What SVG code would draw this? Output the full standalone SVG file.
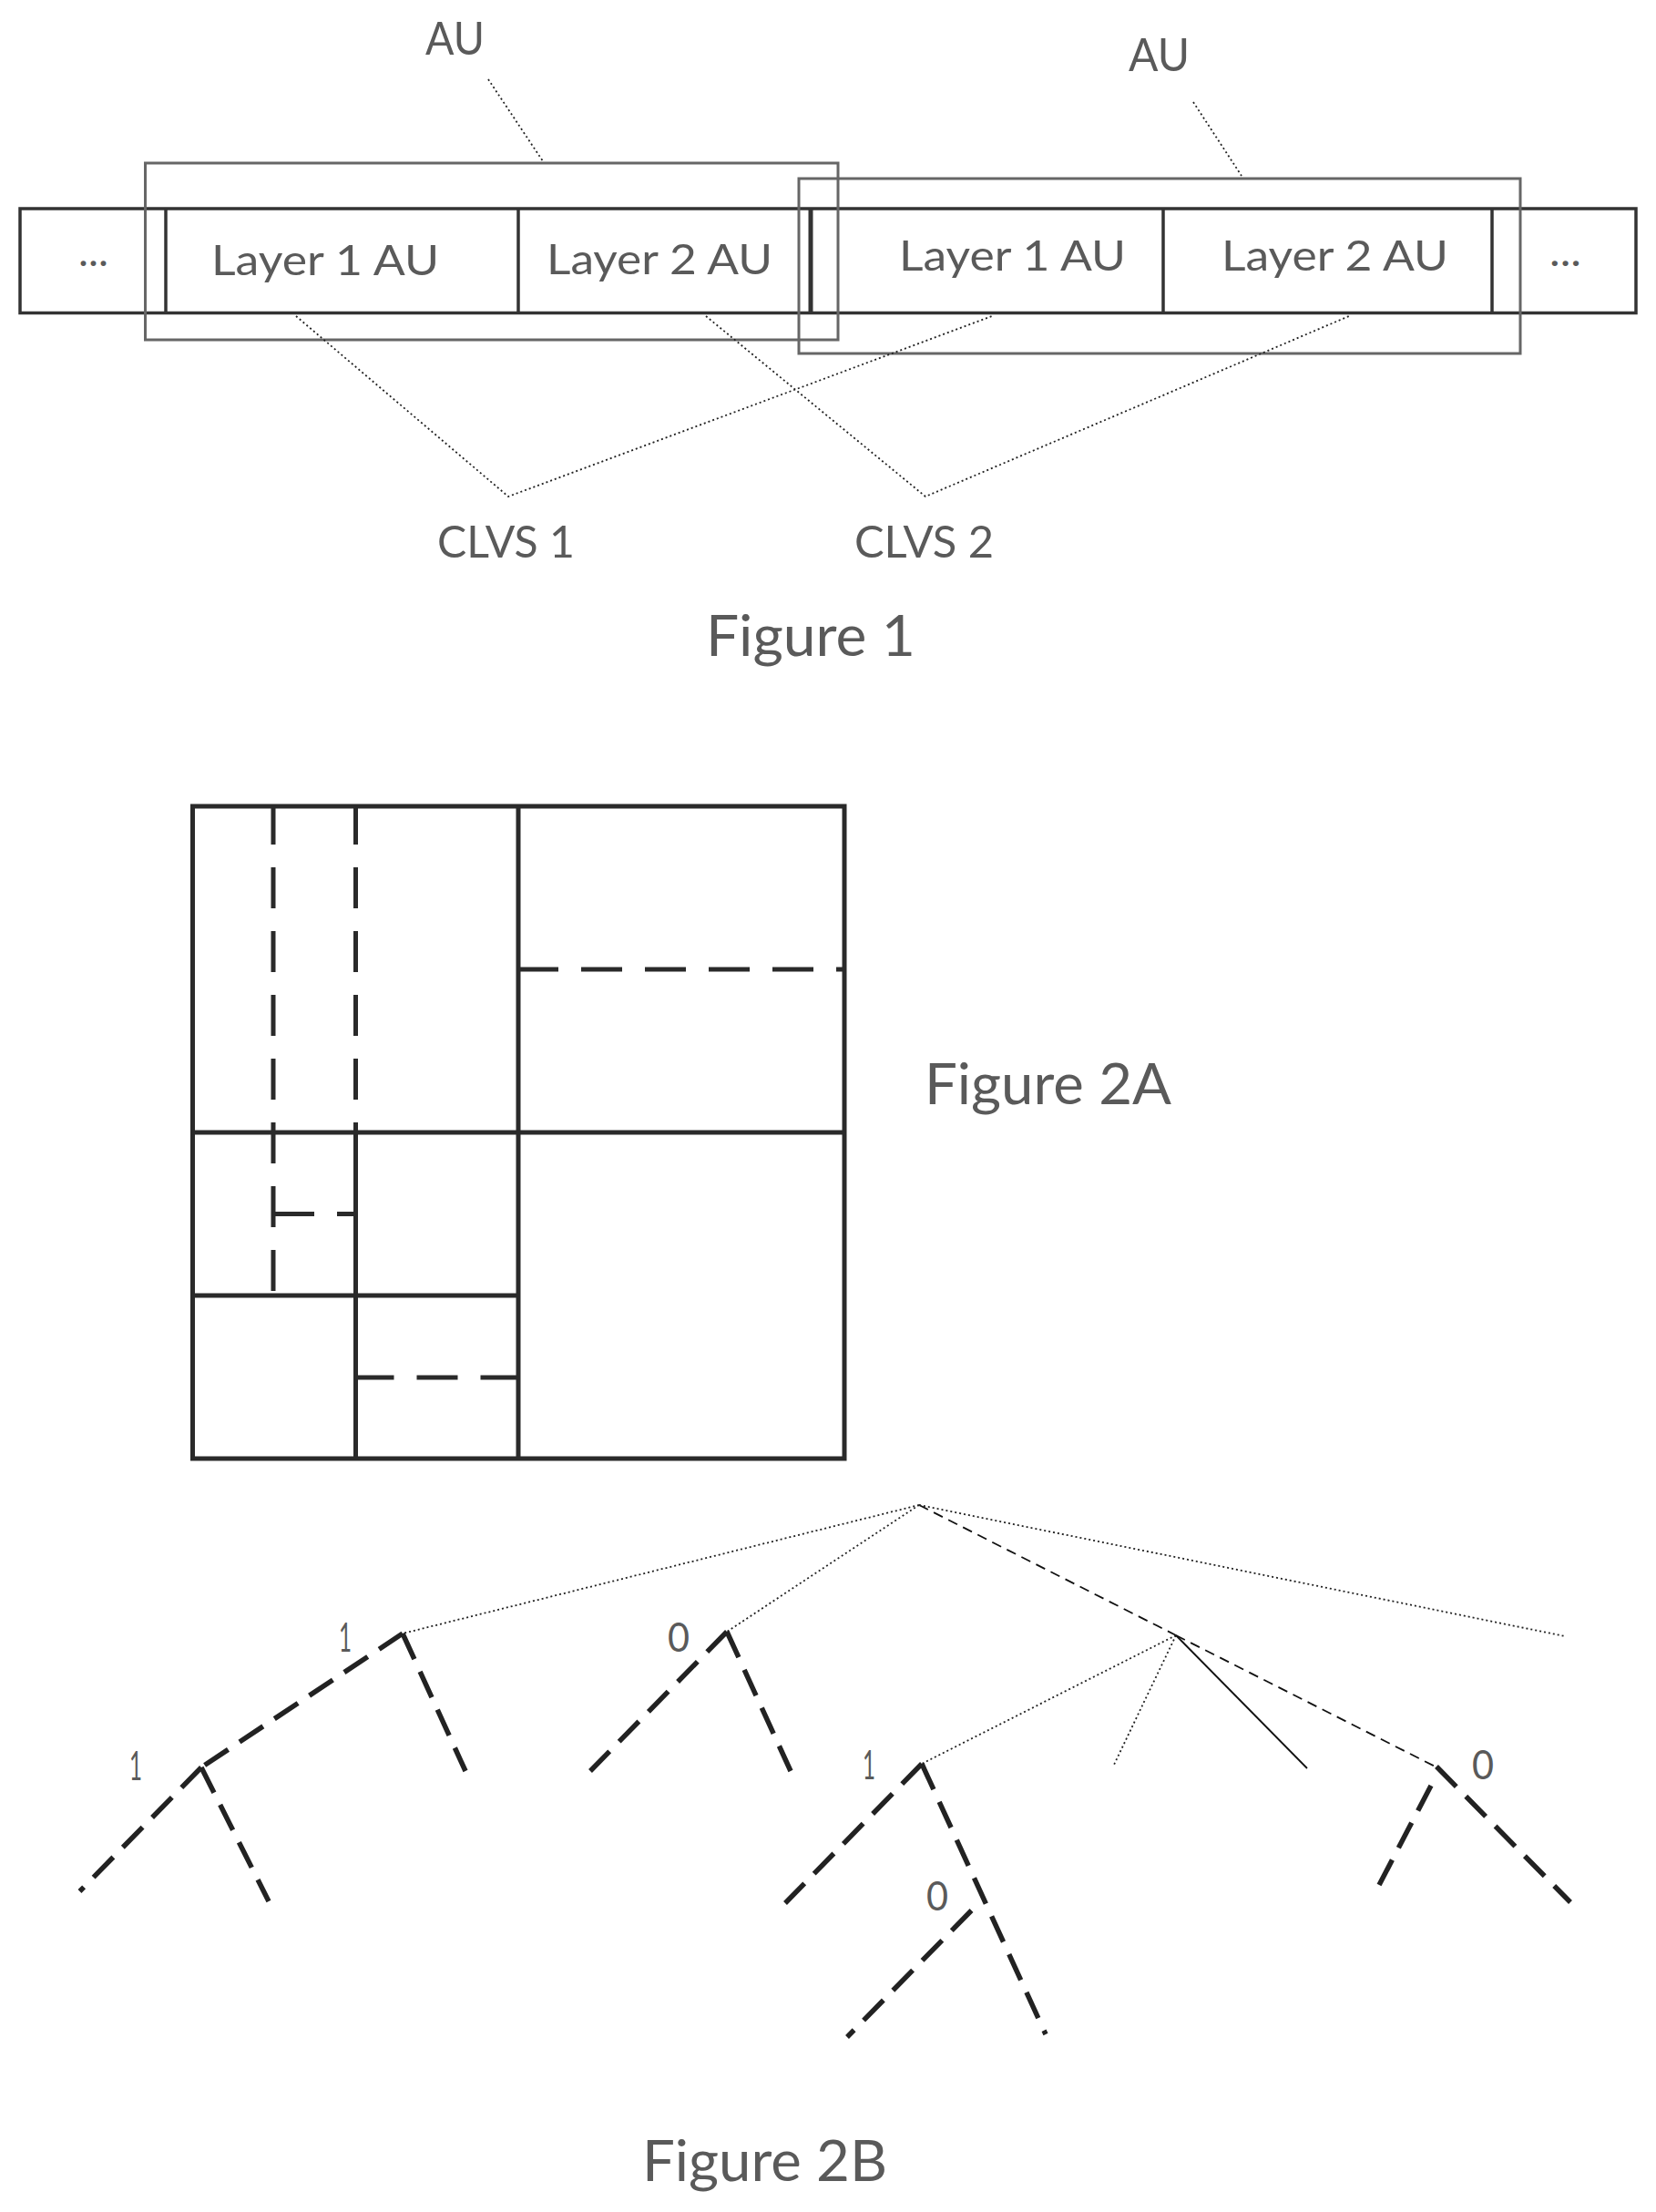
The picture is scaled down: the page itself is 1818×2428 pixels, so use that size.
<svg xmlns="http://www.w3.org/2000/svg" width="1818" height="2428" viewBox="0 0 1818 2428">
<style>
text{font-family:"Lato","Carlito","Open Sans",sans-serif;font-weight:400;fill:#5a5a5a}
.box{fill:none;stroke:#333;stroke-width:3.5}
.au{fill:none;stroke:#666;stroke-width:3}
.dot{fill:none;stroke:#222;stroke-width:1.8;stroke-dasharray:2 3}
.grid{fill:none;stroke:#2a2a2a;stroke-width:5}
.griddash{fill:none;stroke:#2a2a2a;stroke-width:5;stroke-dasharray:45 25}
.thick{fill:none;stroke:#222;stroke-width:5.500;stroke-dasharray:31 15}
.med{fill:none;stroke:#111;stroke-width:1.8;stroke-dasharray:11 7}
.solid{fill:none;stroke:#111;stroke-width:1.8}
</style>
<rect width="1818" height="2428" fill="#fff"/>
<g id="figure-1">
  <g id="strip">
    <rect class="box" x="22" y="229" width="1774" height="114.500"/>
    <line class="box" x1="182" y1="229" x2="182" y2="343.500"/>
    <line class="box" x1="569" y1="229" x2="569" y2="343.500"/>
    <line class="box" x1="890" y1="229" x2="890" y2="343.500" style="stroke-width:5"/>
    <line class="box" x1="1277" y1="229" x2="1277" y2="343.500"/>
    <line class="box" x1="1638" y1="229" x2="1638" y2="343.500"/>
  </g>
  <g id="au-box-1"><rect class="au" x="159.500" y="179" width="760.500" height="194"/></g>
  <g id="au-box-2"><rect class="au" x="877" y="196" width="792" height="192"/></g>
  <g id="connectors-1">
    <line class="dot" x1="536" y1="87" x2="596" y2="177"/>
    <line class="dot" x1="1310" y1="112" x2="1363" y2="193"/>
    <polyline class="dot" points="325,347 558,545 1089,347"/>
    <polyline class="dot" points="775,347 1016,545 1481,347"/>
  </g>
  <text x="467" y="60" font-size="50" textLength="65" lengthAdjust="spacingAndGlyphs">AU</text>
  <text x="1239" y="78" font-size="50" textLength="67" lengthAdjust="spacingAndGlyphs">AU</text>
  <text x="86" y="292" font-size="46" textLength="33" lengthAdjust="spacingAndGlyphs">...</text>
  <text x="232" y="302" font-size="47" textLength="250" lengthAdjust="spacingAndGlyphs">Layer 1 AU</text>
  <text x="600" y="301" font-size="47" textLength="248" lengthAdjust="spacingAndGlyphs">Layer 2 AU</text>
  <text x="987" y="297" font-size="47" textLength="249" lengthAdjust="spacingAndGlyphs">Layer 1 AU</text>
  <text x="1341" y="297" font-size="47" textLength="249" lengthAdjust="spacingAndGlyphs">Layer 2 AU</text>
  <text x="1701" y="292" font-size="46" textLength="35" lengthAdjust="spacingAndGlyphs">...</text>
  <text x="480" y="612" font-size="48" textLength="151" lengthAdjust="spacingAndGlyphs">CLVS 1</text>
  <text x="938" y="612" font-size="48" textLength="153" lengthAdjust="spacingAndGlyphs">CLVS 2</text>
  <text x="775" y="720" font-size="62" textLength="230" lengthAdjust="spacingAndGlyphs">Figure 1</text>
</g>
<g id="figure-2a">
  <rect class="grid" x="211.500" y="885" width="715.500" height="716"/>
  <line class="grid" x1="569" y1="885" x2="569" y2="1601"/>
  <line class="grid" x1="211.500" y1="1243" x2="927" y2="1243"/>
  <line class="grid" x1="390.500" y1="1243" x2="390.500" y2="1601"/>
  <line class="grid" x1="211.500" y1="1422" x2="569" y2="1422"/>
  <line class="griddash" x1="300" y1="885" x2="300" y2="1422" stroke-dashoffset="3"/>
  <line class="griddash" x1="390.500" y1="885" x2="390.500" y2="1243" stroke-dashoffset="3"/>
  <line class="griddash" x1="569" y1="1064" x2="927" y2="1064" stroke-dashoffset="1"/>
  <line class="griddash" x1="300" y1="1332.500" x2="390.500" y2="1332.500"/>
  <line class="griddash" x1="390.500" y1="1512" x2="569" y2="1512" stroke-dashoffset="3"/>
  <text x="1015" y="1212" font-size="62" textLength="271" lengthAdjust="spacingAndGlyphs">Figure 2A</text>
</g>
<g id="figure-2b">
  <g id="tree-connectors">
    <line class="dot" x1="1009" y1="1652" x2="442" y2="1793"/>
    <line class="dot" x1="1009" y1="1652" x2="798" y2="1791"/>
    <line class="med" x1="1009" y1="1652" x2="1291" y2="1795"/>
    <line class="dot" x1="1009" y1="1652" x2="1718" y2="1796"/>
    <line class="dot" x1="1291" y1="1795" x2="1012" y2="1936"/>
    <line class="dot" x1="1291" y1="1795" x2="1222.500" y2="1938"/>
    <line class="solid" x1="1291" y1="1795" x2="1435" y2="1941"/>
    <line class="med" x1="1291" y1="1795" x2="1575.500" y2="1939"/>
    <line class="thick" x1="442" y1="1793" x2="221" y2="1940"/>
    <line class="thick" x1="442" y1="1793" x2="511" y2="1944"/>
    <line class="thick" x1="798" y1="1791" x2="648" y2="1944"/>
    <line class="thick" x1="798" y1="1791" x2="868" y2="1944"/>
    <line class="thick" x1="221" y1="1940" x2="87.500" y2="2076"/>
    <line class="thick" x1="221" y1="1940" x2="295" y2="2087"/>
    <line class="thick" x1="1012" y1="1936" x2="862" y2="2089"/>
    <line class="thick" x1="1012" y1="1936" x2="1148" y2="2233"/>
    <line class="thick" x1="1066.500" y1="2097" x2="930" y2="2236"/>
    <line class="thick" x1="1571" y1="1960" x2="1513" y2="2071"/>
    <line class="thick" x1="1577" y1="1939" x2="1724" y2="2088"/>
  </g>
  <text x="372" y="1813" font-size="44" textLength="14" lengthAdjust="spacingAndGlyphs">1</text>
  <text x="142" y="1954" font-size="44" textLength="14" lengthAdjust="spacingAndGlyphs">1</text>
  <text x="733" y="1813" font-size="44" textLength="24" lengthAdjust="spacingAndGlyphs">0</text>
  <text x="947" y="1953" font-size="44" textLength="14" lengthAdjust="spacingAndGlyphs">1</text>
  <text x="1017" y="2097" font-size="44" textLength="24" lengthAdjust="spacingAndGlyphs">0</text>
  <text x="1616" y="1953" font-size="44" textLength="24" lengthAdjust="spacingAndGlyphs">0</text>
  <text x="705" y="2394" font-size="62" textLength="269" lengthAdjust="spacingAndGlyphs">Figure 2B</text>
</g>
</svg>
